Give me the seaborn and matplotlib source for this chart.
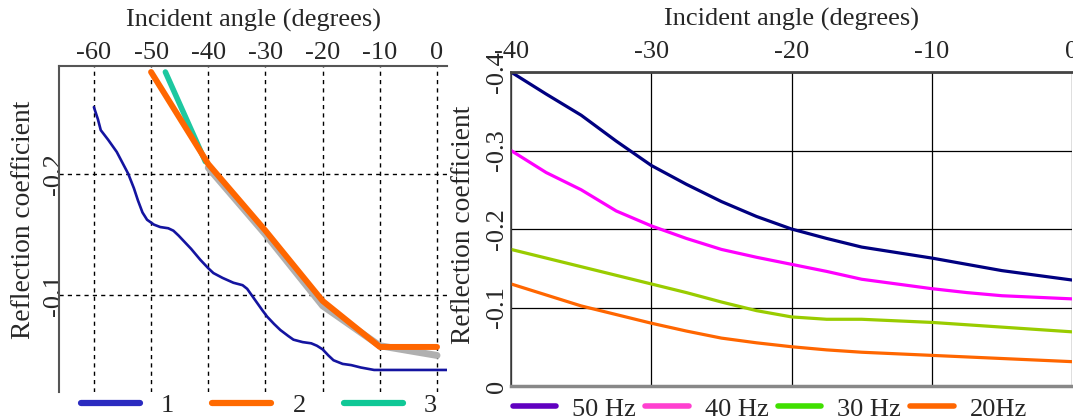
import pandas as pd
import matplotlib
matplotlib.use("Agg")
import matplotlib.pyplot as plt
import seaborn as sns
from matplotlib.lines import Line2D

# ---- left panel data ----
angle_1 = [-60, -59.3, -58.8, -57.5, -56, -54, -53, -52.3, -51.5, -50.7, -49.5, -48.4,
           -47, -46.1, -45.2, -44.4, -43, -41.4, -40, -39.1, -37.5, -35.6, -34, -33.2,
           -32.3, -31.4, -30.5, -29.7, -28.5, -27.4, -26, -25.1, -23.5, -22, -21, -20,
           -19, -18.1, -16.5, -15, -13.3, -11, -5, 1.75]
refl_1 = [-0.255, -0.245, -0.236, -0.228, -0.218, -0.200, -0.188, -0.178, -0.168, -0.162,
          -0.158, -0.156, -0.155, -0.153, -0.149, -0.145, -0.138, -0.129, -0.122, -0.118,
          -0.114, -0.110, -0.108, -0.105, -0.099, -0.093, -0.087, -0.082, -0.076, -0.071,
          -0.066, -0.063, -0.061, -0.060, -0.058, -0.055, -0.050, -0.046, -0.043, -0.042,
          -0.040, -0.038, -0.038, -0.038]
angle_2 = [-50, -40, -30, -20, -10, 0]
refl_2 = [-0.284, -0.208, -0.153, -0.095, -0.057, -0.057]
angle_3 = [-47.5, -40.5]
refl_3 = [-0.284, -0.210]
angle_grey = [-40, -30, -20, -10, 0]
refl_grey = [-0.205, -0.150, -0.091, -0.058, -0.050]

# ---- right panel data ----
angle_f = [-40, -37.5, -35, -32.5, -30, -27.5, -25, -22.5, -20,
           -17.5, -15, -12.5, -10, -7.5, -5, -2.5, 0]
hz50 = [-0.400, -0.372, -0.345, -0.312, -0.281, -0.257, -0.235, -0.216, -0.200,
        -0.188, -0.177, -0.170, -0.163, -0.155, -0.147, -0.141, -0.135]
hz40 = [-0.300, -0.272, -0.250, -0.223, -0.204, -0.188, -0.174, -0.164, -0.155,
        -0.146, -0.136, -0.130, -0.124, -0.119, -0.115, -0.113, -0.111]
hz30 = [-0.174, -0.163, -0.152, -0.141, -0.130, -0.119, -0.107, -0.096, -0.088,
        -0.085, -0.085, -0.083, -0.081, -0.078, -0.075, -0.072, -0.069]
hz20 = [-0.130, -0.116, -0.102, -0.091, -0.080, -0.070, -0.061, -0.055, -0.050,
        -0.046, -0.043, -0.041, -0.039, -0.037, -0.035, -0.033, -0.031]
freq_labels = ["50 Hz", "40 Hz", "30 Hz", "20Hz"]

sns.set_style("white")
plt.rcParams["font.family"] = ["Liberation Serif", "DejaVu Serif"]
plt.rcParams["font.size"] = 19

fig = plt.figure(figsize=(10.73, 4.18), dpi=100)
ax1 = fig.add_axes([0.055, 0.0622, 0.3616, 0.780])
ax2 = fig.add_axes([0.4763, 0.0766, 0.5228, 0.751])

# left panel
sns.lineplot(x=angle_grey, y=refl_grey, ax=ax1, color="#b0b0b0", lw=5, sort=False)
sns.lineplot(x=angle_1, y=refl_1, ax=ax1, color="#1414a0", lw=1.9, sort=False)
sns.lineplot(x=angle_3, y=refl_3, ax=ax1, color="#1dc8a0", lw=4, sort=False)
sns.lineplot(x=angle_2, y=refl_2, ax=ax1, color="#ff6600", lw=4.3, sort=False)

ax1.set_xlim(-66.1, 1.75)
ax1.set_ylim(-0.0198, -0.289)
ax1.set_xticks([-60, -50, -40, -30, -20, -10, 0])
ax1.set_yticks([-0.2, -0.1])
ax1.set_yticklabels(["-0.2", "-0.1"], rotation=90, va="center")
ax1.set_xticklabels(["-60", "-50", "-40", "-30", "-20", "-10", "0"])
ax1.grid(True, ls=(0, (3, 3)), color="black", lw=1)

# right panel
freq_df = pd.DataFrame({"angle": angle_f * 4,
                        "refl": hz50 + hz40 + hz30 + hz20,
                        "freq": sum([[f] * len(angle_f) for f in freq_labels], [])})
line_cols = ["#000080", "#ff00ff", "#99cc00", "#ff6600"]
sns.lineplot(data=freq_df, x="angle", y="refl", hue="freq", palette=line_cols,
             ax=ax2, lw=2.3, legend=False, sort=False)
ax2.set_xlim(-40, 0)
ax2.set_ylim(0, -0.4)
ax2.set_xticks([-40, -30, -20, -10, 0])
ax2.set_xticklabels(["-40", "-30", "-20", "-10", "0"])
ax2.set_yticks([-0.4, -0.3, -0.2, -0.1, 0])
ax2.set_yticklabels(["-0.4", "-0.3", "-0.2", "-0.1", "0"], rotation=90, va="center")
ax2.grid(True, color="black", lw=0.9)

for ax in (ax1, ax2):
    ax.xaxis.tick_top()
    ax.xaxis.set_label_position("top")
    ax.set_xlabel("Incident angle (degrees)", labelpad=11)
    ax.set_ylabel("Reflection coefficient", fontsize=19.8)
    ax.tick_params(length=0)
    ax.set_facecolor("white")

ax1.tick_params(axis="x", pad=1.5)
ax2.tick_params(axis="x", pad=6.6)
ax1.tick_params(axis="y", pad=-4.5)
ax2.tick_params(axis="y", pad=2)
ax1.yaxis.set_label_coords(-0.060, 0.528)
ax2.yaxis.set_label_coords(-0.0624, 0.513)

for side in ("right", "bottom"):
    ax1.spines[side].set_visible(False)
for side in ("left", "top"):
    ax1.spines[side].set_color("#555555")
    ax1.spines[side].set_linewidth(1.5)
ax2.spines["right"].set_visible(False)
ax2.spines["top"].set_color("#444444")
ax2.spines["top"].set_linewidth(2)
ax2.spines["bottom"].set_color("#888888")
ax2.spines["bottom"].set_linewidth(2.5)
ax2.spines["left"].set_color("#444444")
ax2.spines["left"].set_linewidth(1.2)

# legends below the panels
h1 = [Line2D([], [], color=c, lw=4.5) for c in ["#2b2bc0", "#ff6a00", "#10c896"]]
fig.legend(h1, ["1", "2", "3"], loc="center left", bbox_to_anchor=(0.0755, 0.03),
           ncol=3, frameon=False, handlelength=2.23, handletextpad=0.8,
           columnspacing=1.45, borderaxespad=0, borderpad=0)
h2 = [Line2D([], [], color=c, lw=4) for c in ["#6000c0", "#ff40d0", "#40e000", "#ff6600"]]
fig.legend(h2, freq_labels, loc="center left", bbox_to_anchor=(0.478, 0.022),
           ncol=4, frameon=False, handlelength=1.65, handletextpad=0.6,
           columnspacing=0.35, borderaxespad=0, borderpad=0)

fig.savefig("out.png", dpi=100)
